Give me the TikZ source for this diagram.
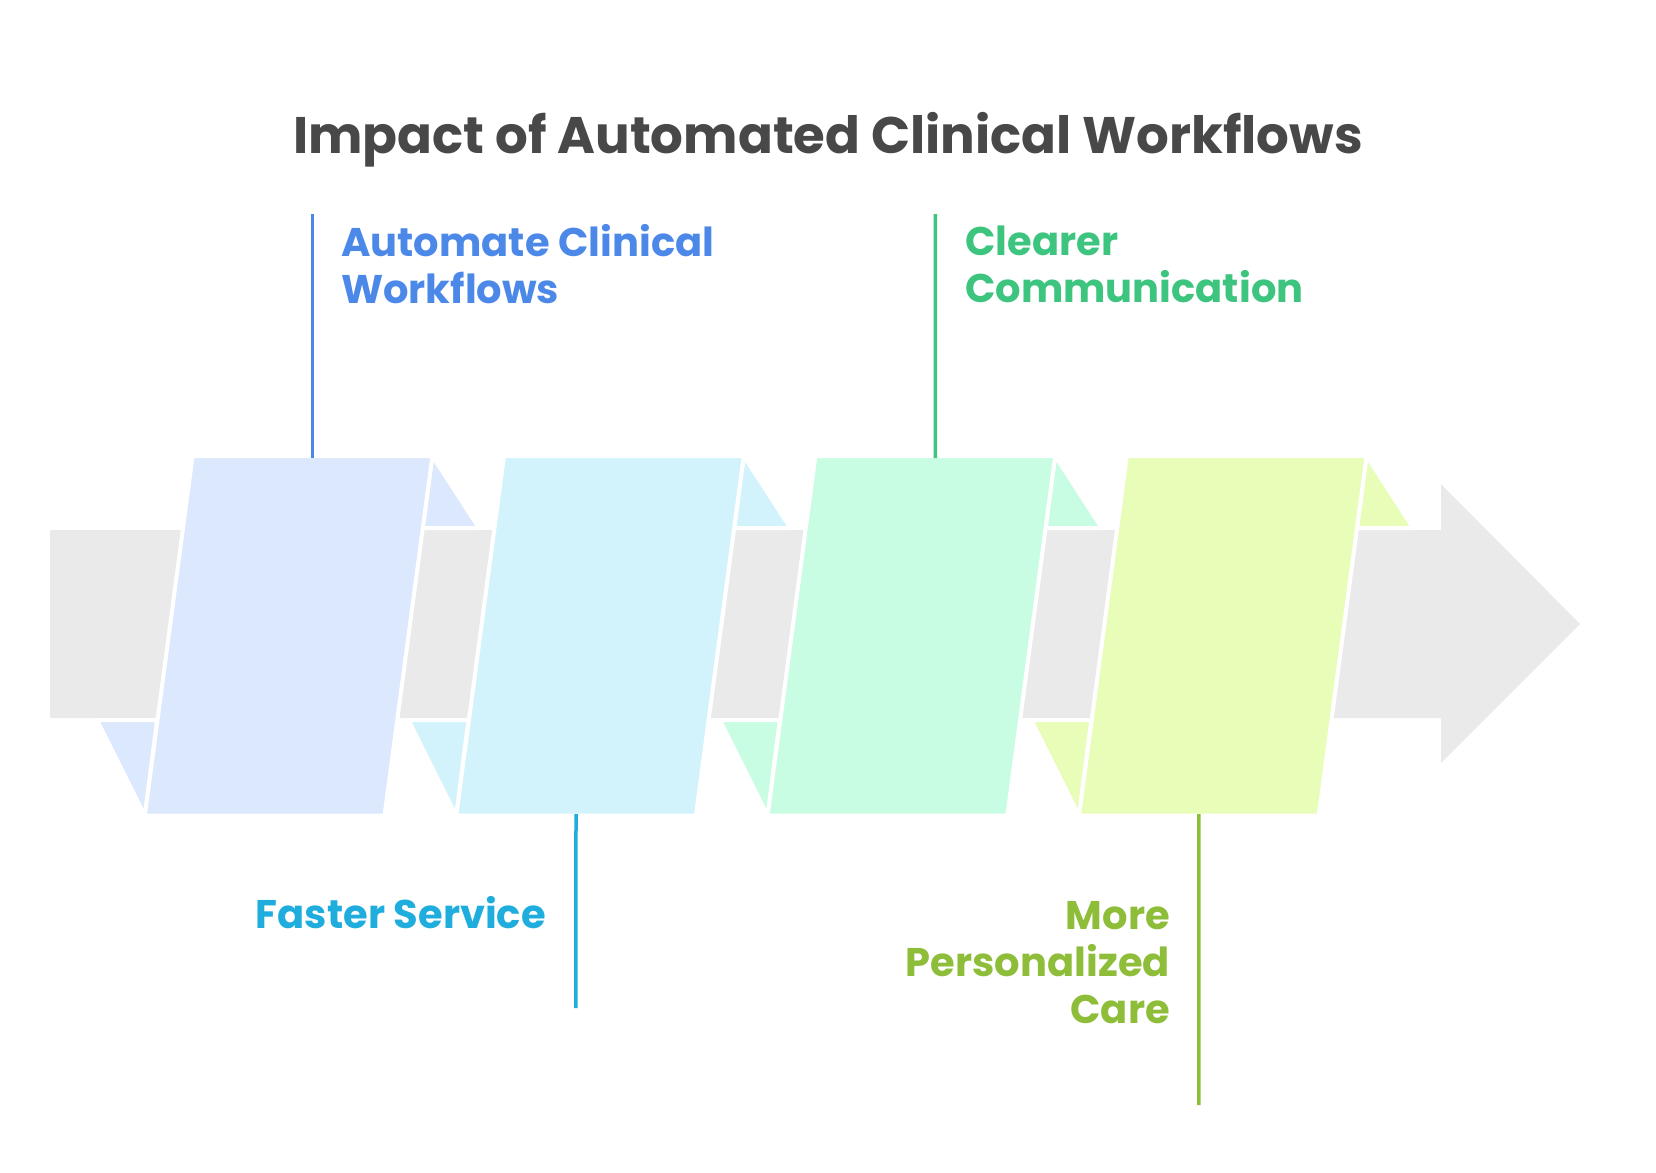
\documentclass[tikz,border=0pt]{standalone}
\usepackage{fontspec}
\setmainfont{Poppins}
\definecolor{bandgray}{HTML}{EAEAEA}
\definecolor{titlegray}{HTML}{484848}
\definecolor{fillA}{HTML}{DCE8FD}
\definecolor{fillB}{HTML}{D3F3FC}
\definecolor{fillC}{HTML}{C8FDE3}
\definecolor{fillD}{HTML}{E8FDB8}
\definecolor{lineA}{HTML}{4C88E8}
\definecolor{lineB}{HTML}{1EADDC}
\definecolor{lineC}{HTML}{3DC47E}
\definecolor{lineD}{HTML}{8EBD3A}
\begin{document}
\begin{tikzpicture}[x=1pt, y=-1pt,
    panelbox/.style={draw=white, line width=4pt, line join=round},
    leader/.style={line width=3.5pt},
    lbl/.style={font=\fontsize{40}{47}\selectfont\bfseries, inner sep=0pt}]
  \useasboundingbox (0,0) rectangle (1656,1172);
  % title
  \node[font=\fontsize{51.4}{60}\selectfont\bfseries, text=titlegray, anchor=base] (title) at (828,153) {Impact of Automated Clinical Workflows};
  % band with arrow head
  \fill[bandgray] (50,530) -- (1441,530) -- (1441,484) -- (1580,624) -- (1441,763) -- (1441,718) -- (50,718) -- cycle;
  % folded panels
  \foreach \i/\col in {0/fillA,1/fillB,2/fillC,3/fillD}{
    \pgfmathsetmacro{\o}{311.4*\i}
    \filldraw[panelbox, fill=\col] (432.4+\o,456) -- (479+\o,528) -- (422.7+\o,528) -- cycle;
    \filldraw[panelbox, fill=\col] (144.8+\o,815.7) -- (97+\o,720) -- (157.1+\o,720) -- cycle;
    \filldraw[panelbox, fill=\col] (192.6+\o,456) -- (432.4+\o,456) -- (384.5+\o,815.7) -- (144.8+\o,815.7) -- cycle;
    \coordinate (top\i) at (312.5+\o,458);
    \coordinate (bot\i) at (264.6+\o,814);
  }
  % leader lines
  \coordinate (end0) at (312.5,214);
  \coordinate (end1) at (575.9,1008);
  \coordinate (end2) at (935.3,214);
  \coordinate (end3) at (1198.8,1105);
  \draw[leader, lineA] (end0) -- (top0);
  \draw[leader, lineB] (bot1) -- (end1);
  \draw[leader, lineC] (end2) -- (top2);
  \draw[leader, lineD] (bot3) -- (end3);
  % labels (base = last line)
  \node[lbl, text=lineA, anchor=base west, align=left] (autolbl) at (341,303) {Automate Clinical\\Workflows};
  \node[lbl, text=lineC, anchor=base west, align=left] (clearlbl) at (965,302) {Clearer\\Communication};
  \node[lbl, text=lineB, anchor=base east, align=right] (fastlbl) at (546,928) {Faster Service};
  \node[lbl, text=lineD, anchor=base east, align=right] (carelbl) at (1170,1023) {More\\Personalized\\Care};
\end{tikzpicture}
\end{document}
